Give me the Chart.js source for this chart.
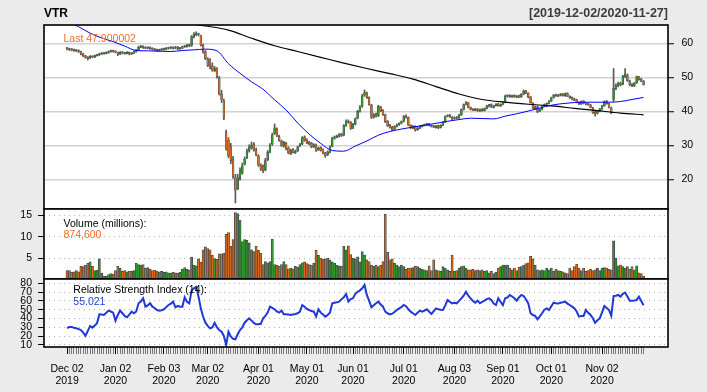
<!DOCTYPE html>
<html>
<head>
<meta charset="utf-8">
<script src="https://cdn.jsdelivr.net/npm/chart.js@4.4.0/dist/chart.umd.min.js"></script>
<style>
html, body { margin: 0; padding: 0; background: #ebebeb; }
#wrap { position: relative; width: 707px; height: 392px; overflow: hidden; font-family: "Liberation Sans", Arial, sans-serif; }
#wrap canvas { position: absolute; left: 0; top: 0; }
.t { position: absolute; white-space: nowrap; line-height: 1; z-index: 5; }
</style>
</head>
<body>
<div id="wrap">
  <canvas id="price" width="707" height="392"></canvas>
  <canvas id="vol" width="707" height="392"></canvas>
  <canvas id="rsi" width="707" height="392"></canvas>
  <div class="t" style="left:44px;top:7.3px;font-size:12px;font-weight:bold;color:#000">VTR</div>
  <div class="t" style="right:39px;top:6.7px;font-size:12.5px;font-weight:bold;color:#3c3c3c">[2019-12-02/2020-11-27]</div>
  <div class="t" style="left:63.5px;top:32.8px;font-size:10.5px;color:#ef6c2a">Last 47.900002</div>
  <div class="t" style="left:63.5px;top:218.4px;font-size:10.5px;color:#000">Volume (millions):</div>
  <div class="t" style="left:63.5px;top:229.4px;font-size:10.5px;color:#ef6c2a">874,600</div>
  <div class="t" style="left:73.3px;top:283.8px;font-size:10.5px;color:#000">Relative Strength Index (14):</div>
  <div class="t" style="left:73.3px;top:296.1px;font-size:10.5px;color:#2040d8">55.021</div>
</div>
<script>
// VTR daily bars, 2019-12-02 .. 2020-11-27 (251 trading days)
const open = [
  58.5, 58.4, 58.2, 58.1, 57.8, 57.9, 57.5, 56.9, 56.3, 55.9,
  55.7, 56.2, 56.0, 56.4, 56.6, 56.9, 57.1, 57.0, 57.3, 57.6,
  57.8, 57.6, 57.3, 56.9, 57.4, 57.2, 57.0, 57.4, 56.9, 57.1,
  57.6, 58.1, 58.9, 59.1, 58.8, 58.6, 58.8, 58.5, 58.3, 58.1,
  57.9, 58.1, 58.2, 58.3, 58.5, 58.7, 58.8, 58.6, 58.9, 58.4,
  58.6, 59.0, 59.1, 59.5, 59.4, 62.0, 62.6, 62.8, 62.2, 59.4,
  57.6, 55.4, 53.6, 53.4, 52.0, 52.5, 49.8, 45.0, 43.0, 33.8,
  31.5, 29.5, 26.0, 20.5, 17.3, 20.2, 21.8, 24.5, 26.5, 28.4,
  29.2, 30.3, 28.5, 26.8, 24.0, 23.8, 22.8, 25.8, 28.2, 30.4,
  33.5, 34.8, 32.6, 31.2, 29.8, 30.6, 29.2, 27.6, 28.8, 27.8,
  28.4, 29.8, 30.4, 32.4, 31.6, 30.9, 30.6, 29.5, 30.1, 28.7,
  29.4, 28.7, 27.8, 27.2, 28.0, 29.8, 32.1, 32.4, 32.7, 33.3,
  33.0, 35.9, 37.1, 36.7, 35.1, 36.3, 38.0, 40.1, 41.5, 44.8,
  45.4, 44.1, 41.8, 38.4, 39.1, 38.7, 41.3, 40.3, 38.9, 37.1,
  36.0, 35.4, 34.8, 35.6, 36.1, 36.5, 37.1, 38.6, 38.2, 35.9,
  35.1, 35.6, 34.6, 35.1, 35.5, 35.9, 36.1, 36.3, 35.8, 35.6,
  35.3, 35.8, 35.3, 36.0, 36.9, 38.6, 38.9, 38.3, 37.9, 38.3,
  38.1, 39.0, 40.6, 42.1, 42.5, 41.1, 40.7, 40.3, 40.7, 40.1,
  40.6, 40.2, 40.9, 41.5, 42.0, 41.2, 41.7, 42.2, 41.6, 42.1,
  42.7, 44.4, 44.7, 44.3, 44.7, 44.2, 44.6, 44.3, 45.1, 46.1,
  45.3, 44.2, 42.4, 40.8, 41.4, 40.1, 40.6, 41.7, 42.1, 42.4,
  43.1, 44.1, 44.9, 44.5, 44.7, 45.1, 44.6, 45.3, 44.4, 44.1,
  43.7, 43.4, 42.6, 42.2, 43.0, 42.5, 42.2, 41.9, 41.0, 39.8,
  39.5, 40.2, 40.8, 41.7, 42.9, 42.2, 41.0, 43.5, 46.6, 47.5,
  48.3, 48.0, 50.2, 50.7, 48.8, 47.9, 47.5, 48.4, 50.1, 49.5,
  48.9
];
const high = [
  58.8, 58.6, 58.5, 58.3, 58.2, 58.1, 57.7, 57.1, 56.5, 56.1,
  56.4, 56.4, 56.6, 56.8, 57.1, 57.3, 57.3, 57.5, 57.8, 58.0,
  58.0, 57.8, 57.4, 57.6, 57.6, 57.4, 57.6, 57.5, 57.3, 57.8,
  58.2, 59.2, 59.4, 59.3, 59.0, 59.0, 59.0, 58.7, 58.5, 58.3,
  58.3, 58.5, 58.6, 58.8, 58.9, 59.0, 59.0, 59.1, 59.1, 58.8,
  59.2, 59.4, 59.7, 59.8, 62.3, 63.2, 63.4, 63.0, 62.4, 59.8,
  57.9, 55.8, 55.5, 54.3, 53.2, 52.9, 50.3, 46.2, 43.6, 34.5,
  32.3, 30.6, 26.8, 21.5, 21.5, 23.4, 24.8, 26.6, 28.9, 30.2,
  31.0, 30.8, 29.2, 27.3, 24.6, 24.3, 26.2, 28.5, 30.5, 33.6,
  36.3, 35.2, 33.0, 31.6, 31.2, 30.9, 29.6, 28.9, 29.1, 28.6,
  29.8, 30.6, 32.6, 32.8, 31.9, 31.2, 30.9, 30.5, 30.4, 29.5,
  29.6, 29.0, 28.0, 28.4, 29.9, 32.4, 32.8, 33.0, 33.5, 33.6,
  36.1, 37.5, 37.5, 37.0, 36.5, 38.1, 40.3, 41.7, 45.0, 46.3,
  45.7, 44.3, 42.1, 39.4, 39.5, 41.8, 41.5, 40.5, 39.2, 37.3,
  36.2, 35.6, 35.8, 36.3, 36.6, 37.2, 38.8, 39.0, 38.4, 36.1,
  35.8, 35.8, 35.3, 35.9, 36.0, 36.3, 36.5, 36.5, 36.0, 35.9,
  35.9, 36.0, 36.1, 37.0, 38.7, 39.0, 39.1, 38.5, 38.4, 38.5,
  39.1, 40.7, 42.2, 42.9, 42.7, 41.3, 40.8, 40.9, 40.9, 40.7,
  40.8, 41.0, 41.8, 42.1, 42.2, 41.8, 42.3, 42.4, 42.2, 42.7,
  44.8, 44.9, 44.9, 44.8, 44.9, 44.7, 44.8, 45.2, 46.3, 46.2,
  45.5, 44.4, 42.6, 41.6, 41.6, 40.8, 41.8, 42.2, 42.5, 43.2,
  44.2, 45.0, 45.1, 45.0, 45.3, 45.3, 45.4, 45.5, 44.6, 44.3,
  43.9, 43.6, 42.8, 43.1, 43.2, 42.7, 42.4, 42.1, 41.2, 40.0,
  40.3, 40.9, 41.8, 43.1, 43.2, 42.4, 41.3, 52.6, 48.1, 48.6,
  48.6, 50.6, 52.6, 51.0, 49.2, 48.2, 48.5, 50.4, 50.3, 49.7,
  49.1
];
const low = [
  58.1, 57.9, 57.8, 57.6, 57.6, 57.3, 56.6, 56.1, 55.6, 55.1,
  55.5, 55.8, 55.8, 56.2, 56.4, 56.7, 56.8, 56.9, 57.1, 57.4,
  57.4, 57.2, 56.4, 56.7, 56.9, 56.8, 56.9, 56.6, 56.7, 57.0,
  57.4, 57.9, 58.7, 58.5, 58.4, 58.4, 58.2, 58.0, 57.8, 57.6,
  57.7, 57.9, 58.0, 58.1, 58.3, 58.4, 58.3, 58.4, 58.1, 58.2,
  58.4, 58.8, 58.9, 59.0, 59.1, 61.6, 62.2, 62.2, 59.2, 57.1,
  55.2, 53.2, 52.5, 51.8, 51.7, 49.8, 44.8, 42.6, 37.6, 28.6,
  26.4, 24.6, 20.3, 13.1, 17.0, 19.8, 21.5, 24.2, 26.1, 28.0,
  28.9, 28.3, 26.9, 23.8, 22.6, 22.0, 22.5, 25.5, 27.8, 30.0,
  33.2, 32.6, 31.2, 29.7, 29.5, 28.7, 27.5, 27.3, 27.8, 27.6,
  28.2, 29.6, 30.2, 31.2, 30.5, 30.2, 29.3, 29.4, 28.2, 28.5,
  28.3, 27.5, 26.5, 27.0, 27.8, 29.6, 31.8, 32.2, 32.4, 32.6,
  32.8, 35.6, 36.5, 34.7, 34.9, 36.0, 37.8, 39.8, 41.2, 44.4,
  43.8, 41.8, 37.9, 38.0, 38.3, 38.5, 39.9, 38.8, 36.7, 35.5,
  35.1, 34.3, 34.5, 35.4, 35.9, 36.3, 36.9, 38.0, 35.8, 34.9,
  34.9, 34.2, 34.4, 34.9, 35.4, 35.7, 35.8, 35.7, 35.4, 35.2,
  35.1, 34.9, 35.1, 35.8, 36.7, 38.4, 38.2, 37.6, 37.7, 37.8,
  37.9, 38.8, 40.4, 41.9, 41.0, 40.4, 40.2, 40.2, 40.0, 40.0,
  40.1, 40.1, 40.7, 41.3, 41.1, 41.0, 41.5, 41.5, 41.4, 41.9,
  42.5, 44.2, 44.1, 44.1, 44.1, 44.0, 44.0, 44.1, 44.9, 45.2,
  44.0, 42.4, 40.8, 40.6, 39.6, 39.9, 40.4, 41.5, 41.8, 42.2,
  42.9, 43.9, 44.4, 44.3, 44.5, 44.5, 44.4, 44.3, 43.8, 43.4,
  43.1, 42.5, 42.0, 42.0, 42.2, 41.9, 41.8, 41.0, 39.4, 38.6,
  39.2, 39.9, 40.6, 41.5, 42.1, 41.0, 39.3, 42.9, 46.4, 47.2,
  47.5, 47.8, 50.0, 48.8, 47.5, 47.3, 47.3, 48.2, 49.2, 48.7,
  47.7
];
const close = [
  58.4, 58.2, 58.1, 57.9, 57.9, 57.6, 56.9, 56.4, 55.9, 55.6,
  56.2, 56.0, 56.4, 56.6, 56.9, 57.1, 57.0, 57.3, 57.6, 57.8,
  57.7, 57.5, 56.8, 57.4, 57.2, 57.0, 57.4, 56.9, 57.1, 57.6,
  58.0, 58.9, 59.1, 58.8, 58.6, 58.8, 58.5, 58.3, 58.1, 57.9,
  58.1, 58.3, 58.3, 58.5, 58.7, 58.8, 58.6, 58.9, 58.4, 58.6,
  59.0, 59.1, 59.5, 59.3, 62.0, 62.7, 62.8, 62.6, 59.5, 57.5,
  55.6, 53.5, 53.3, 52.2, 52.6, 50.2, 45.2, 43.5, 38.2, 29.0,
  27.0, 25.5, 20.8, 16.8, 20.5, 22.5, 24.0, 26.0, 28.2, 29.5,
  30.0, 28.7, 27.2, 24.2, 23.0, 22.5, 25.5, 28.0, 30.0, 33.0,
  35.2, 33.0, 31.5, 30.0, 30.8, 29.0, 27.8, 28.5, 28.0, 28.3,
  29.5, 30.3, 32.2, 31.5, 30.8, 30.5, 29.6, 30.2, 28.5, 29.2,
  28.6, 27.8, 27.0, 28.1, 29.6, 32.0, 32.5, 32.6, 33.2, 32.9,
  35.8, 37.0, 36.8, 35.0, 36.2, 37.8, 40.0, 41.3, 44.6, 45.5,
  44.0, 42.0, 38.2, 39.0, 38.6, 41.5, 40.2, 39.0, 37.0, 35.8,
  35.3, 34.6, 35.5, 36.0, 36.4, 37.0, 38.5, 38.3, 36.0, 35.2,
  35.5, 34.5, 35.0, 35.6, 35.8, 36.0, 36.2, 35.9, 35.6, 35.4,
  35.7, 35.2, 35.9, 36.8, 38.5, 38.8, 38.4, 37.8, 38.2, 38.0,
  38.9, 40.5, 42.0, 42.6, 41.2, 40.6, 40.4, 40.6, 40.2, 40.5,
  40.3, 40.8, 41.6, 41.9, 41.3, 41.6, 42.1, 41.7, 42.0, 42.5,
  44.5, 44.6, 44.4, 44.6, 44.3, 44.5, 44.2, 45.0, 46.0, 45.4,
  44.3, 42.6, 41.0, 41.3, 40.0, 40.5, 41.6, 42.0, 42.3, 43.0,
  44.0, 44.8, 44.6, 44.8, 45.0, 44.7, 45.2, 44.5, 44.0, 43.6,
  43.3, 42.7, 42.3, 42.9, 42.4, 42.1, 42.0, 41.2, 39.6, 39.4,
  40.1, 40.7, 41.6, 42.8, 42.3, 41.2, 39.6, 46.8, 47.6, 48.2,
  47.8, 50.3, 50.8, 49.0, 47.8, 47.6, 48.3, 50.2, 49.4, 48.9,
  47.9
];
// volume in millions of shares
const volume = [
  2.2, 2.2, 1.8, 1.9, 2.2, 1.9, 3.2, 3.1, 3.4, 3.9,
  4.2, 3.2, 2.2, 2.3, 4.9, 1.6, 0.9, 0.9, 1.3, 1.5,
  1.4, 2.2, 3.2, 2.7, 2.0, 2.2, 1.9, 2.1, 2.0, 2.2,
  3.9, 3.6, 3.5, 3.6, 2.7, 2.9, 2.5, 2.2, 2.3, 2.1,
  1.9, 2.0, 1.8, 1.9, 1.7, 1.6, 1.8, 1.7, 1.6, 1.8,
  2.5, 2.9, 2.5, 2.4, 5.3, 3.4, 3.3, 4.9, 4.1, 7.0,
  7.7, 7.3, 7.0, 5.8, 5.0, 4.8, 6.1, 6.1, 6.2, 10.6,
  11.0, 7.8, 9.4, 15.6, 15.4, 13.9, 8.9, 9.4, 9.2, 8.6,
  7.0, 6.6, 7.8, 6.9, 6.2, 3.6, 4.3, 4.0, 4.3, 9.5,
  3.6, 3.4, 3.2, 3.6, 4.3, 3.6, 2.6, 2.8, 2.6, 3.2,
  3.0, 3.6, 4.0, 4.2, 3.8, 3.6, 3.5, 3.9, 6.9, 5.7,
  5.1, 4.8, 4.9, 5.1, 4.7, 4.2, 3.9, 3.4, 3.3, 3.2,
  7.8, 7.0, 7.9, 5.9, 5.1, 4.9, 5.4, 4.2, 6.6, 5.8,
  4.7, 4.3, 3.5, 3.2, 3.5, 3.1, 3.5, 4.3, 15.2, 6.4,
  4.7, 4.9, 3.9, 3.5, 3.1, 3.5, 3.1, 2.5, 2.8, 2.8,
  2.9, 3.2, 3.1, 2.8, 2.5, 2.4, 2.2, 3.3, 2.2, 4.7,
  2.4, 2.2, 2.0, 3.1, 2.8, 2.4, 2.0, 5.8, 2.0, 2.2,
  2.8, 3.1, 3.3, 2.8, 2.4, 2.4, 2.5, 2.2, 2.4, 2.2,
  2.4, 2.0, 2.2, 1.7, 2.0, 1.5, 1.8, 2.8, 3.1, 3.5,
  3.5, 3.5, 2.8, 2.4, 2.8, 2.2, 3.0, 3.1, 3.5, 3.8,
  4.0, 5.5, 4.9, 3.5, 2.4, 2.2, 2.4, 2.2, 2.8, 2.4,
  2.8, 2.0, 2.5, 2.2, 2.0, 1.9, 1.7, 1.5, 2.8, 2.2,
  3.1, 3.7, 2.8, 2.2, 2.8, 2.0, 2.2, 2.5, 2.2, 2.4,
  2.8, 2.2, 2.8, 2.9, 2.8, 2.5, 2.4, 9.1, 5.1, 3.3,
  3.5, 3.1, 2.8, 3.1, 2.5, 3.1, 2.4, 3.3, 1.7, 1.5,
  0.8746
];
// RSI(14)
const rsi = [
  29, 30.5, 30.5, 29.5, 29, 28, 27, 24, 20.5, 26,
  31.6, 29.7, 32, 34.6, 44.8, 44.5, 44, 46.5, 49, 48,
  46.7, 37.6, 44, 49, 46, 43, 41.4, 44.5, 47.8, 46,
  48, 57.3, 59.2, 63, 53.5, 55, 57.3, 53.5, 52, 49.7,
  49, 49.5, 50.5, 53, 55.4, 57, 59.2, 52.8, 54.3, 53.5,
  53.5, 64.1, 59, 57.3, 71.7, 74.3, 76, 65, 51.6, 42,
  35.3, 31.6, 29, 30, 35.3, 30, 27, 25.1, 20.2, 10,
  25.1, 19.8, 17, 16.4, 22.1, 27, 30, 35.3, 38, 40.3,
  37.6, 35, 33.5, 33.5, 34, 40.3, 43, 46.7, 53.5, 52,
  50.5, 48, 46.7, 49, 44.8, 45, 44.5, 44, 44.6, 45.2,
  46, 47.8, 55.4, 53.5, 51, 49.7, 48.5, 47.8, 42.2, 50.5,
  46.7, 44.5, 42.2, 44, 46.7, 57.3, 58, 58.5, 59.2, 61.8,
  64, 67.9, 59.2, 62, 63, 68, 70.5, 72, 74.3, 78.1,
  66.8, 60, 52.8, 55, 57.3, 59.2, 56, 53.5, 47.8, 46,
  44.8, 45.5, 47.5, 49.7, 51.6, 53, 55.4, 54, 50.5, 47.8,
  46, 44, 46.5, 49, 47.8, 49, 50.5, 47.8, 45.2, 48.5,
  51.6, 50.5, 50, 49.7, 55, 61, 59, 57.3, 58, 57.3,
  60, 63, 66, 70.5, 66, 63, 60, 58, 60.3, 57.3,
  59, 60.3, 62, 63, 61, 57, 55.4, 63, 59, 55.4,
  63, 64, 66.8, 65, 63, 60.3, 64, 66.8, 65.6, 62,
  57.3, 46, 44, 43, 39.1, 42.5, 46, 50, 51.6, 49.7,
  54, 58, 57.3, 57, 58, 58.5, 59.2, 57, 55.4, 53.5,
  51.6, 48, 42.2, 43, 43, 49.7, 46.5, 44, 40.3, 35.3,
  38, 40.3, 47, 54.3, 52, 49.7, 43, 65.6, 66, 66.8,
  64.9, 68, 69.4, 65, 60.3, 60.3, 60.5, 61, 64.9, 60,
  55.02
];
// moving averages (bar index, value)
const smaFastIdx = [0, 5, 10, 15, 20, 25, 30, 35, 40, 45, 50, 55, 60, 65, 70, 75, 80, 85, 90, 95,
  100, 105, 110, 115, 120, 125, 130, 135, 140, 145, 150, 155, 160, 165, 170, 175, 180, 185, 190, 195,
  200, 205, 210, 215, 220, 225, 230, 235, 240, 245, 250];
const smaFast = [66.6, 64.9, 63.0, 61.6, 60.5, 59.2, 57.9, 57.8, 57.7, 57.6, 57.9, 58.1, 58.3, 57.8, 54.0, 51.2, 48.7, 46.5, 43.4, 40.4,
  36.6, 33.3, 30.6, 28.5, 28.3, 29.8, 31.3, 33.0, 34.1, 34.8, 35.4, 35.9, 36.5, 37.1, 37.6, 38.0, 37.9, 37.8, 38.6, 39.3,
  40.1, 41.0, 41.8, 42.3, 42.6, 42.7, 42.7, 42.7, 42.9, 43.5, 44.1];
const smaSlowIdx = [0, 10, 20, 30, 40, 50, 60, 70, 80, 90, 100, 110, 120, 130, 140, 150, 160, 170, 180, 190,
  200, 210, 220, 230, 240, 250];
const smaSlow = [68.2, 67.8, 67.3, 66.9, 66.5, 66.0, 65.1, 63.9, 61.5, 59.3, 57.6, 55.9, 54.2, 52.6, 51.1, 49.5, 47.3, 45.1, 43.5, 42.7,
  42.1, 41.6, 40.9, 40.2, 39.5, 39.0];

const priceTicks = [20, 30, 40, 50, 60];
const volTicks = [5, 10, 15];
const rsiTicks = [10, 20, 30, 40, 50, 60, 70, 80];
const dateTickIdx = [0, 21, 42, 61, 83, 104, 124, 146, 168, 189, 210, 232];
const dateTickLabels = [
  ['Dec 02', '2019'], ['Jan 02', '2020'], ['Feb 03', '2020'], ['Mar 02', '2020'],
  ['Apr 01', '2020'], ['May 01', '2020'], ['Jun 01', '2020'], ['Jul 01', '2020'],
  ['Aug 03', '2020'], ['Sep 01', '2020'], ['Oct 01', '2020'], ['Nov 02', '2020']
];

const FONT = '"Liberation Sans", Arial, sans-serif';
const UP = '#2f9a2f';
const DN = '#dd6a1e';
const X_MIN = -10, X_MAX = 260.6;

const isUp = i => close[i] >= open[i];

// white plot area + black frame
const panel = {
  id: 'panel',
  beforeDraw(chart) {
    const { ctx, chartArea: a } = chart;
    ctx.save();
    ctx.fillStyle = '#fff';
    ctx.fillRect(a.left, a.top, a.width, a.height);
    ctx.restore();
  },
  afterDraw(chart) {
    const { ctx, chartArea: a } = chart;
    ctx.save();
    ctx.strokeStyle = '#000';
    ctx.lineWidth = 1.6;
    ctx.strokeRect(a.left, a.top, a.width, a.height);
    ctx.restore();
  }
};

function xAxis() {
  return { type: 'linear', min: X_MIN, max: X_MAX, offset: false, display: false, grid: { offset: false } };
}

function yAxis(pos, min, max, ticks, width, gridStyle) {
  return {
    position: pos, min: min, max: max,
    afterBuildTicks: s => { s.ticks = ticks.map(v => ({ value: v })); },
    afterFit: s => { s.width = width; },
    grid: Object.assign({ tickColor: '#000', tickLength: 6, tickWidth: 1 }, gridStyle.grid),
    border: Object.assign({ display: false }, gridStyle.border),
    ticks: { color: '#000', autoSkip: false, padding: pos === 'right' ? 7.5 : 6, font: { family: FONT, size: 10.5 } }
  };
}

const common = {
  responsive: false,
  animation: false,
  events: [],
  plugins: { legend: { display: false }, tooltip: { enabled: false } }
};

// price panel
new Chart(document.getElementById('price'), {
  type: 'bar',
  data: {
    datasets: [
      {
        type: 'line', data: smaSlowIdx.map((x, k) => ({ x: x, y: smaSlow[k] })),
        borderColor: '#000', borderWidth: 1.2, pointRadius: 0, cubicInterpolationMode: 'monotone', order: 0
      },
      {
        type: 'line', data: smaFastIdx.map((x, k) => ({ x: x, y: smaFast[k] })),
        borderColor: '#0000ff', borderWidth: 1, pointRadius: 0, cubicInterpolationMode: 'monotone', order: 1
      },
      {
        data: close.map((c, i) => ({ x: i, y: [open[i], c] })),
        backgroundColor: c => isUp(c.dataIndex) ? UP : DN,
        borderColor: '#444', borderWidth: 0.5, borderSkipped: false,
        barThickness: 1.9, minBarLength: 1, grouped: false, order: 2
      },
      {
        data: close.map((c, i) => ({ x: i, y: [low[i], high[i]] })),
        backgroundColor: '#5a5a5a', borderWidth: 0,
        barThickness: 1, grouped: false, order: 3
      }
    ]
  },
  options: Object.assign({}, common, {
    layout: { padding: { left: 44, top: 25, bottom: 183, right: 0 } },
    scales: {
      x: xAxis(),
      y: yAxis('right', 11.3, 65.4, priceTicks, 39, { grid: { color: '#d2d2d2', lineWidth: 1.5 } })
    }
  }),
  plugins: [panel]
});

// volume panel
new Chart(document.getElementById('vol'), {
  type: 'bar',
  data: {
    datasets: [{
      data: volume.map((v, i) => ({ x: i, y: v })),
      backgroundColor: c => isUp(c.dataIndex) ? UP : DN,
      borderColor: '#454545', borderWidth: 0.8, borderSkipped: false,
      barThickness: 2.2, grouped: false
    }]
  },
  options: Object.assign({}, common, {
    layout: { padding: { left: 0, top: 209, bottom: 113, right: 39 } },
    scales: {
      x: xAxis(),
      y: yAxis('left', 0.25, 16.45, volTicks, 44, { grid: { color: '#b4b4b4', lineWidth: 1 }, border: { dash: [1, 4] } })
    }
  }),
  plugins: [panel]
});

// RSI panel with the date axis
const rsiX = xAxis();
rsiX.display = true;
rsiX.afterBuildTicks = s => { s.ticks = close.map((_, i) => ({ value: i })); };
rsiX.afterFit = s => { s.height = 45; };
rsiX.grid = {
  offset: false, drawOnChartArea: false, tickLength: 7, tickWidth: 1,
  tickColor: c => (c.tick && dateTickIdx.includes(c.tick.value)) ? '#000' : '#777'
};
rsiX.border = { display: false };
rsiX.ticks = {
  autoSkip: false, maxRotation: 0, minRotation: 0, padding: 9, color: '#000',
  font: { family: FONT, size: 10.5, lineHeight: '12.3px' },
  callback: v => { const k = dateTickIdx.indexOf(v); return k < 0 ? '' : dateTickLabels[k]; }
};

new Chart(document.getElementById('rsi'), {
  type: 'line',
  data: {
    datasets: [{
      data: rsi.map((v, i) => ({ x: i, y: v })),
      borderColor: '#1f38d6', borderWidth: 2, pointRadius: 0
    }]
  },
  options: Object.assign({}, common, {
    layout: { padding: { left: 0, top: 279, bottom: 0, right: 39 } },
    scales: {
      x: rsiX,
      y: yAxis('left', 7.7, 84.9, rsiTicks, 44, { grid: { color: '#b4b4b4', lineWidth: 1 }, border: { dash: [1, 4] } })
    }
  }),
  plugins: [panel]
});
</script>
</body>
</html>
